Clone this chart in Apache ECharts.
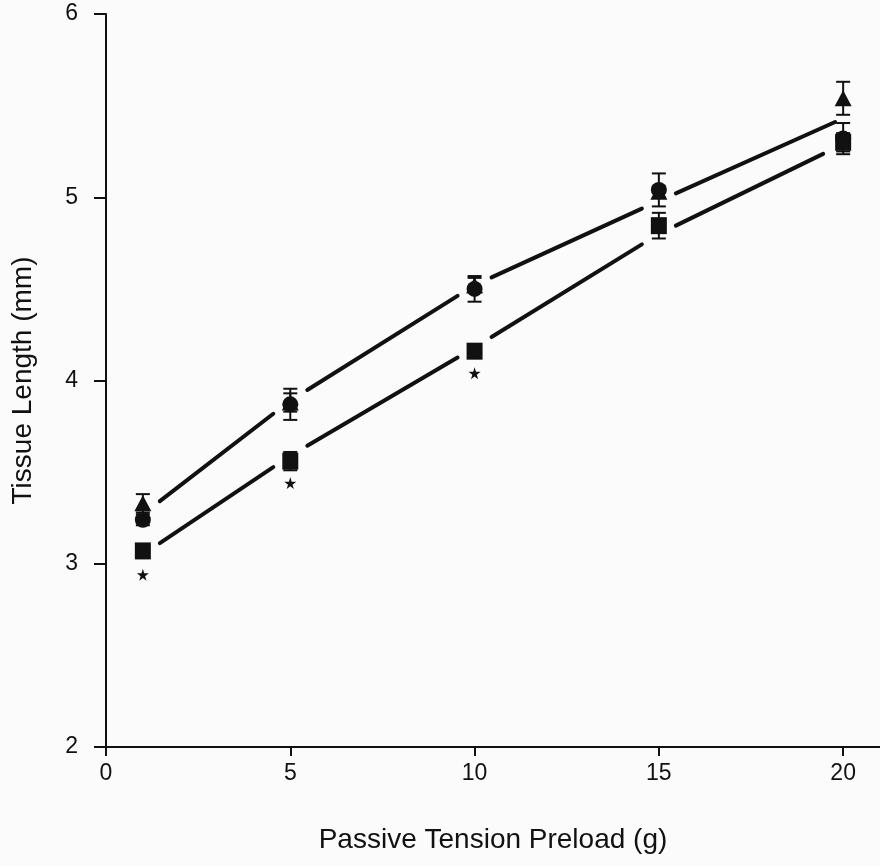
<!DOCTYPE html>
<html>
<head>
<meta charset="utf-8">
<script src="https://cdn.jsdelivr.net/npm/echarts@6/dist/echarts.min.js"></script>
<style>
  html, body { margin: 0; padding: 0; background: #fbfbfb; }
  #chart { width: 880px; height: 866px; }
</style>
</head>
<body>
<div id="chart"></div>
<script>
// Preload (g) at which tissue length was measured
const preload = [1, 5, 10, 15, 20];
const xTicks = [0, 5, 10, 15, 20];

// Group means (mm) and SEM
const triangleMean = [3.33, 3.88, 4.52, 5.03, 5.54];
const triangleErr  = [0.05, 0.05, 0.04, 0.03, 0.09];
const circleMean   = [3.24, 3.87, 4.50, 5.04, 5.32];
const circleErr    = [0.03, 0.085, 0.07, 0.09, 0.085];
const squareMean   = [3.07, 3.56, 4.16, 4.845, 5.30];
const squareErr    = [0.03, 0.05, 0.03, 0.07, 0.05];

// Fitted curves drawn through the groups
const upperFit = [3.27, 3.89, 4.52, 4.98, 5.43];
const lowerFit = [3.05, 3.59, 4.18, 4.80, 5.29];

// Significance markers (*) below the squares
const starX = [1, 5, 10];
const starY = [2.94, 3.44, 4.04];

const pairs = (xs, ys) => xs.map((x, i) => [x, ys[i]]);
const errRows = (xs, m, e) => xs.map((x, i) => [x, m[i] - e[i], m[i] + e[i]]);
const segRows = (xs, ys) => xs.slice(0, -1).map((x, i) => [x, ys[i], xs[i + 1], ys[i + 1], i]);

const INK = '#111';
const GAP = 17;

function errorBarItem(params, api) {
  const x = api.value(0);
  const lo = api.coord([x, api.value(1)]);
  const hi = api.coord([x, api.value(2)]);
  const half = 7;
  const style = { stroke: INK, lineWidth: 2 };
  return {
    type: 'group',
    children: [
      { type: 'line', shape: { x1: lo[0], y1: lo[1], x2: hi[0], y2: hi[1] }, style },
      { type: 'line', shape: { x1: hi[0] - half, y1: hi[1], x2: hi[0] + half, y2: hi[1] }, style },
      { type: 'line', shape: { x1: lo[0] - half, y1: lo[1], x2: lo[0] + half, y2: lo[1] }, style }
    ]
  };
}

// Each fitted segment stops short of the data points at both ends
function makeSegmentRenderer(lastGap) {
  return function (params, api) {
    const a = api.coord([api.value(0), api.value(1)]);
    const b = api.coord([api.value(2), api.value(3)]);
    const idx = api.value(4);
    const dx = b[0] - a[0], dy = b[1] - a[1];
    const g0 = GAP / dx;
    const g1 = (idx === preload.length - 2 ? lastGap : GAP) / dx;
    return {
      type: 'line',
      shape: {
        x1: a[0] + dx * g0, y1: a[1] + dy * g0,
        x2: b[0] - dx * g1, y2: b[1] - dy * g1
      },
      style: { stroke: INK, lineWidth: 4, lineCap: 'round' }
    };
  };
}

const starPath = 'path://M50,0 L61,35 L98,35 L68,57 L79,91 L50,70 L21,91 L32,57 L2,35 L39,35 Z';
const solid = { color: INK, opacity: 1 };

const chart = echarts.init(document.getElementById('chart'), null, { renderer: 'canvas' });

chart.setOption({
  backgroundColor: '#fbfbfb',
  animation: false,
  textStyle: { fontFamily: 'Liberation Sans, Arial, sans-serif', color: INK },
  grid: { left: 106, right: -5, top: 14, bottom: 119 },
  xAxis: {
    type: 'value',
    min: 0,
    max: 21,
    interval: 5,
    name: 'Passive Tension Preload (g)',
    nameLocation: 'middle',
    nameGap: 79,
    nameTextStyle: { fontSize: 28, color: INK },
    axisLine: { show: true, onZero: false, lineStyle: { color: INK, width: 2 } },
    axisTick: { show: true, length: 9, customValues: xTicks, lineStyle: { color: INK, width: 2 } },
    axisLabel: { customValues: xTicks, fontSize: 23, color: INK, margin: 15 },
    splitLine: { show: false }
  },
  yAxis: {
    type: 'value',
    min: 2,
    max: 6,
    interval: 1,
    name: 'Tissue Length (mm)',
    nameLocation: 'middle',
    nameGap: 69,
    nameTextStyle: { fontSize: 28, color: INK },
    axisLine: { show: true, lineStyle: { color: INK, width: 2 } },
    axisTick: { show: true, length: 12, lineStyle: { color: INK, width: 2 } },
    axisLabel: { fontSize: 23, color: INK, margin: 28 },
    splitLine: { show: false }
  },
  series: [
    {
      type: 'custom', name: 'upper fit', renderItem: makeSegmentRenderer(8),
      data: segRows(preload, upperFit), encode: { x: [0, 2], y: [1, 3] }, z: 1
    },
    {
      type: 'custom', name: 'lower fit', renderItem: makeSegmentRenderer(20),
      data: segRows(preload, lowerFit), encode: { x: [0, 2], y: [1, 3] }, z: 1
    },
    {
      type: 'custom', name: 'square err', renderItem: errorBarItem,
      data: errRows(preload, squareMean, squareErr), encode: { x: 0, y: [1, 2] }, z: 2
    },
    {
      type: 'custom', name: 'circle err', renderItem: errorBarItem,
      data: errRows(preload, circleMean, circleErr), encode: { x: 0, y: [1, 2] }, z: 2
    },
    {
      type: 'custom', name: 'triangle err', renderItem: errorBarItem,
      data: errRows(preload, triangleMean, triangleErr), encode: { x: 0, y: [1, 2] }, z: 2
    },
    {
      type: 'scatter', name: 'square', symbol: 'rect', symbolSize: [16, 17],
      itemStyle: solid, data: pairs(preload, squareMean), z: 3
    },
    {
      type: 'scatter', name: 'triangle', symbol: 'triangle', symbolSize: [17, 16],
      itemStyle: solid, data: pairs(preload, triangleMean), z: 3
    },
    {
      type: 'scatter', name: 'circle', symbol: 'circle', symbolSize: 16,
      itemStyle: solid, data: pairs(preload, circleMean), z: 4
    },
    {
      type: 'scatter', name: 'significance', symbol: starPath, symbolSize: 12,
      itemStyle: solid, data: pairs(starX, starY), z: 3
    }
  ]
});
</script>
</body>
</html>
